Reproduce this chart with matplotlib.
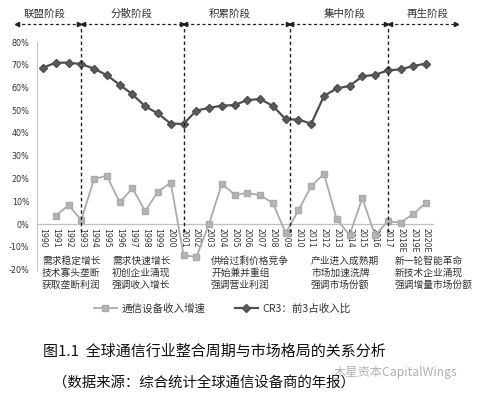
import matplotlib
matplotlib.use("Agg")
import matplotlib.pyplot as plt
import numpy as np

plt.rcParams['font.family'] = ['Noto Sans CJK SC', 'DejaVu Sans']

years = [str(y) for y in range(1990, 2018)] + ['2018E', '2019E', '2020E']
cr3 = [68.7, 70.9, 70.9, 70.3, 68.3, 65.4, 61.2, 57.0, 51.7, 48.6, 44.1,
       44.0, 49.8, 51.1, 52.0, 52.3, 54.5, 54.9, 51.9, 46.0, 45.9, 44.1,
       56.3, 59.6, 60.7, 64.9, 65.6, 67.5, 68.0, 69.5, 70.5]
growth = [np.nan, 3.7, 8.2, 1.8, 19.8, 21.2, 9.5, 15.7, 5.7, 14.2, 18.2,
          -13.6, -14.6, 0.0, 17.7, 12.9, 13.6, 12.7, 9.1, -4.0, 6.0, 16.7,
          22.0, 2.0, -4.8, 11.3, -5.0, 1.2, 0.6, 4.5, 9.4]
stages = ['联盟阶段', '分散阶段', '积累阶段', '集中阶段', '再生阶段']
stage_notes = ['需求稳定增长\n技术寡头垄断\n获取垄断利润',
               '需求快速增长\n初创企业涌现\n强调收入增长',
               '供给过剩价格竞争\n开始兼并重组\n强调营业利润',
               '产业进入成熟期\n市场加速洗牌\n强调市场份额',
               '新一轮智能革命\n新技术企业涌现\n强调增量市场份额']
boundaries = [3, 11, 19.3, 27]
legend_labels = ['通信设备收入增速', 'CR3：前3占收入比']
caption1 = '图1.1  全球通信行业整合周期与市场格局的关系分析'
caption2 = '（数据来源：综合统计全球通信设备商的年报）'

W, H = 482, 396
fig = plt.figure(figsize=(W / 100, H / 100), dpi=100)
ax = fig.add_axes([36.6 / W, 1 - 269.5 / H, 396 / W, 227.5 / H])

x = np.arange(len(years))
ax.plot(x, growth, color='#ababab', lw=1.3, marker='s', ms=4.5,
        mec='#ababab', mfc='#b4b4b4', label=legend_labels[0], zorder=3)
ax.plot(x, cr3, color='#4f4f4f', lw=1.6, marker='D', ms=4,
        mec='#4f4f4f', mfc='#5a5a5a', label=legend_labels[1], zorder=3)

ax.set_xlim(-0.5, 30.5)
ax.set_ylim(-20, 80)
ax.set_yticks(np.arange(-20, 81, 10))
ax.set_yticklabels([f'{v}%' for v in range(-20, 81, 10)], fontsize=5.8,
                   color='#333333', family='DejaVu Sans')
ax.tick_params(axis='y', length=0, pad=5)
for s in ['top', 'right']:
    ax.spines[s].set_visible(False)
ax.spines['left'].set_color('#c8c8c8')
ax.spines['left'].set_linewidth(0.8)
ax.spines['bottom'].set_position(('data', 0))
ax.spines['bottom'].set_color('#c0c0c0')
ax.spines['bottom'].set_linewidth(0.9)
ax.set_xticks(x)
ax.set_xticklabels(years, rotation=-90, fontsize=5.6, color='#333333',
                   family='DejaVu Sans', va='top', ha='center')
ax.tick_params(axis='x', length=0, pad=3)

# vertical dashed boundaries
for b in boundaries:
    ax.axvline(b, ymin=0.165, ymax=1.062, color='#222222', lw=1.0,
               ls=(0, (2.5, 2)), clip_on=False, zorder=4)

# top arrows
arrow_y = 87.9
segs = [(-2.2, 3), (3, 11), (11, 19.3), (19.3, 27), (27, 32.5)]
for (a, b) in segs:
    ax.plot([a + 0.12, b - 0.12], [arrow_y, arrow_y], color='#222222', lw=0.9,
            ls=(0, (2.5, 2)), clip_on=False)
    ax.plot([a + 0.15], [arrow_y], marker='<', ms=3, color='#222222', clip_on=False)
    ax.plot([b - 0.15], [arrow_y], marker='>', ms=3, color='#222222', clip_on=False)

stage_x = [0.1, 6.9, 14.6, 23.6, 30.1]
for sx, st in zip(stage_x, stages):
    ax.text(sx, 92.5, st, ha='center', va='center', fontsize=7.6,
            color='#333333', clip_on=False)

note_x = [42, 112, 211, 311, 395]
for nx, nt in zip(note_x, stage_notes):
    fig.text(nx / W, 1 - 256 / H, nt, ha='left', va='top', fontsize=7.0,
             color='#333333', linespacing=1.25)

leg = fig.legend(loc='center', bbox_to_anchor=(222 / W, 1 - 309 / H), ncol=2,
                 frameon=False, fontsize=7.6, handlelength=2.2,
                 columnspacing=2.8, handletextpad=0.4)
for t in leg.get_texts():
    t.set_color('#333333')

fig.text(43 / W, 1 - 352 / H, caption1, ha='left', va='center',
         fontsize=10.8, color='#111111')
fig.text(53 / W, 1 - 383 / H, caption2, ha='left', va='center',
         fontsize=10.4, color='#111111')
fig.text(334 / W, 1 - 372 / H, '木星资本CapitalWings', ha='left', va='center',
         fontsize=8.8, color='#a8a8a8', alpha=0.9)

fig.savefig('out.png', dpi=100, facecolor='white')
